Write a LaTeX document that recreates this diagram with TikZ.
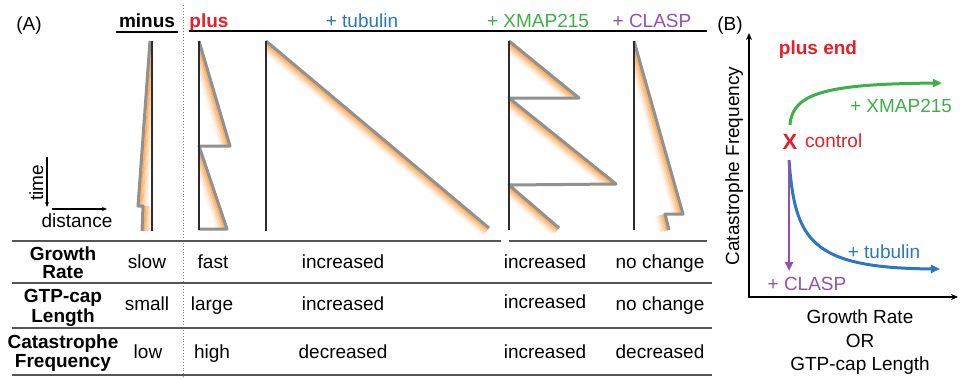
\documentclass[tikz,border=0pt]{standalone}
\usepackage{fontspec}
\setmainfont{Liberation Sans}
\usetikzlibrary{calc,arrows.meta}
\definecolor{orng}{RGB}{250,150,50}
\definecolor{kgrey}{RGB}{145,145,145}
\definecolor{kblack}{RGB}{45,45,45}
\definecolor{tline}{RGB}{85,85,85}
\definecolor{cred}{RGB}{232,30,40}
\definecolor{cblue}{RGB}{40,120,195}
\definecolor{cgreen}{RGB}{62,176,72}
\definecolor{cpurp}{RGB}{150,80,172}
\newcommand{\kband}[4]{%
  \foreach \i/\op in {0/0.9,1/0.72,2/0.52,3/0.34,4/0.19,5/0.08}{%
    \fill[orng,fill opacity=\op] ($(#1)!{\i*1.7pt}!#3:(#2)$) -- ($(#2)!{\i*1.7pt}!#4:(#1)$) -- ($(#2)!{(\i+1)*1.7pt}!#4:(#1)$) -- ($(#1)!{(\i+1)*1.7pt}!#3:(#2)$) -- cycle;
  }}
\tikzset{
  tx/.style={font=\fontsize{19}{21}\selectfont, inner sep=0pt},
  bx/.style={font=\fontsize{19}{21}\selectfont\bfseries, inner sep=0pt},
  kgy/.style={draw=kgrey, line width=3pt, line join=round},
  kblk/.style={draw=kblack, line width=1.3pt},
  uline/.style={draw=black, line width=1.5pt},
  tln/.style={draw=tline, line width=1.6pt},
  smallar/.style={draw=black, line width=1.2pt, -{Stealth[length=5pt,width=4pt]}},
  axis/.style={draw=black, line width=2pt},
  curve/.style={line width=3pt, -{Triangle[length=9pt,width=8pt]}}
}
\begin{document}
\begin{tikzpicture}[x=1pt,y=-1pt]
\useasboundingbox (0,0) rectangle (960,378);
\fill[white] (0,0) rectangle (960,378);

% ---------- header ----------
\node[tx, anchor=base] (lA) at (29,30) {(A)};
\node[bx, anchor=base] (hminus) at (147,27) {minus};
\node[bx, anchor=base, text=cred] (hplus) at (209,27) {plus};
\node[tx, anchor=base, text=cblue] (htub) at (362,27) {+ tubulin};
\node[tx, anchor=base, text=cgreen] (hxmap) at (538,27) {+ XMAP215};
\node[tx, anchor=base, text=cpurp] (hclasp) at (652,27) {+ CLASP};
\draw[uline] (116,32) -- (178,32);
\draw[uline] (189,31) -- (707,31);
\draw[dotted, draw=gray, line width=0.9pt] (183,5) -- (183,378);

% ---------- time / distance ----------
\coordinate (t1) at (47,157); \coordinate (t2) at (47,207);
\coordinate (d1) at (52,209); \coordinate (d2) at (107,209);
\draw[smallar] (t1) -- (t2);
\draw[smallar] (d1) -- (d2);
\node[tx, rotate=90, anchor=base] (ltime) at (43,183) {time};
\node[tx, anchor=base] (ldist) at (77,227) {distance};

% ---------- minus kymograph ----------
\coordinate (m1) at (150,41); \coordinate (m2) at (138,206);
\coordinate (m3) at (143,206); \coordinate (m4) at (142,231);
\begin{scope}
  \clip (m1) -- (m2) -- (152,206) -- (152,41) -- cycle;
  \kband{m1}{m2}{90}{-90}
\end{scope}
\begin{scope}
  \clip (m3) -- (m4) -- (152,231) -- (152,206) -- cycle;
  \kband{m3}{m4}{90}{-90}
\end{scope}
\draw[kgy] (m1) -- (m2) -- (m3) -- (m4);
\draw[kblk] (152,41) -- (152,231);

% ---------- plus kymograph ----------
\coordinate (p1) at (199,41); \coordinate (p2) at (230,146);
\coordinate (p3) at (199,146); \coordinate (p4) at (227,229);
\coordinate (p5) at (199,229);
\begin{scope}
  \clip (p1) -- (p2) -- (p3) -- cycle;
  \kband{p1}{p2}{-90}{90}
\end{scope}
\begin{scope}
  \clip (p3) -- (p4) -- (p5) -- cycle;
  \kband{p3}{p4}{-90}{90}
\end{scope}
\draw[kgy] (p1) -- (p2) -- (p3) -- (p4) -- (p5);
\draw[kblk] (199,41) -- (199,230);

% ---------- tubulin kymograph ----------
\coordinate (u1) at (266,41); \coordinate (u2) at (489,228);
\begin{scope}
  \clip (266,41) rectangle (500,240);
  \kband{u1}{u2}{-90}{90}
\end{scope}
\draw[kgy] (u1) -- (u2);
\draw[kblk] (266,41) -- (266,231);

% ---------- XMAP215 kymograph ----------
\coordinate (x1) at (509,41); \coordinate (x2) at (579,98);
\coordinate (x3) at (509,98); \coordinate (x4) at (616,184);
\coordinate (x5) at (509,185); \coordinate (x6) at (559,228);
\begin{scope}
  \clip (x1) -- (x2) -- (x3) -- cycle;
  \kband{x1}{x2}{-90}{90}
\end{scope}
\begin{scope}
  \clip (x3) -- (x4) -- (x5) -- cycle;
  \kband{x3}{x4}{-90}{90}
\end{scope}
\begin{scope}
  \clip (509,185) rectangle (600,232);
  \kband{x5}{x6}{-90}{90}
\end{scope}
\draw[kgy] (x1) -- (x2) -- (x3) -- (x4) -- (x5) -- (x6);
\draw[kblk] (509,41) -- (509,230);

% ---------- CLASP kymograph ----------
\coordinate (c1) at (634,41); \coordinate (c2) at (683,214);
\coordinate (c3) at (665,214); \coordinate (c4) at (669,230);
\begin{scope}
  \clip (c1) -- (c2) -- (634,214) -- cycle;
  \kband{c1}{c2}{-90}{90}
\end{scope}
\begin{scope}
  \clip (650,214) rectangle (669,231);
  \kband{c3}{c4}{-90}{90}
\end{scope}
\draw[kgy] (c1) -- (c2) -- (c3) -- (c4);
\draw[kblk] (634,41) -- (634,230);

% ---------- table ----------
\draw[tln] (12,241) -- (501,241);
\draw[tln] (509,241) -- (707,241);
\draw[tln] (12,283) -- (712,283);
\draw[tln] (12,328) -- (712,328);
\draw[tln] (12,375) -- (712,375);

\node[bx, anchor=base] (r1a) at (63,260) {Growth};
\node[bx, anchor=base] (r1b) at (63,278) {Rate};
\node[bx, anchor=base] (r2a) at (63,302) {GTP-cap};
\node[bx, anchor=base] (r2b) at (63,322) {Length};
\node[bx, anchor=base] (r3a) at (63,348) {Catastrophe};
\node[bx, anchor=base] (r3b) at (63,367) {Frequency};

\node[tx, anchor=base] (v11) at (147,268) {slow};
\node[tx, anchor=base] (v12) at (213,268) {fast};
\node[tx, anchor=base] (v13) at (343,268) {increased};
\node[tx, anchor=base] (v14) at (545,268) {increased};
\node[tx, anchor=base] (v15) at (660,268) {no change};

\node[tx, anchor=base] (v21) at (147,310) {small};
\node[tx, anchor=base] (v22) at (212,310) {large};
\node[tx, anchor=base] (v23) at (343,310) {increased};
\node[tx, anchor=base] (v24) at (545,308) {increased};
\node[tx, anchor=base] (v25) at (660,310) {no change};

\node[tx, anchor=base] (v31) at (148,358) {low};
\node[tx, anchor=base] (v32) at (212,358) {high};
\node[tx, anchor=base] (v33) at (343,358) {decreased};
\node[tx, anchor=base] (v34) at (545,358) {increased};
\node[tx, anchor=base] (v35) at (660,358) {decreased};

% ---------- panel B ----------
\node[tx, anchor=base] (lB) at (730,30) {(B)};
\coordinate (ytop) at (749,33); \coordinate (orig) at (749,297); \coordinate (xend) at (958,297);
\draw[axis, {Stealth[length=7pt,width=6pt]}-{Stealth[length=7pt,width=6pt]}] (ytop) -- (orig) -- (xend);
\node[tx, rotate=90, anchor=base] (ylab) at (739,166) {Catastrophe Frequency};
\node[tx, anchor=base] (xl1) at (860,323) {Growth Rate};
\node[tx, anchor=base] (xl2) at (860,347) {OR};
\node[tx, anchor=base] (xl3) at (860,370) {GTP-cap Length};
\node[bx, anchor=base, text=cred] (pend) at (818,54) {plus end};

\node[font=\fontsize{22}{24}\selectfont\bfseries, text=cred, inner sep=0pt, anchor=base] (cx) at (790,149) {X};
\node[tx, anchor=base west, text=cred] (ctrl) at (805,147) {control};

\coordinate (gs) at (790,125); \coordinate (ge) at (942,83);
\draw[curve, draw=cgreen] (gs) .. controls (792,92) and (830,84) .. (ge);
\node[tx, anchor=base, text=cgreen] (lx) at (901,112) {+ XMAP215};

\coordinate (bs) at (789,160); \coordinate (be) at (940,269);
\draw[curve, draw=cblue] (bs) .. controls (795,240) and (810,268) .. (be);
\node[tx, anchor=base, text=cblue] (lt) at (884,258) {+ tubulin};

\coordinate (ps) at (789,160); \coordinate (pe) at (789,271);
\draw[draw=cpurp, line width=2.5pt, -{Triangle[length=9pt,width=8pt]}] (ps) -- (pe);
\node[tx, anchor=base, text=cpurp] (lc) at (807,290) {+ CLASP};
\end{tikzpicture}
\end{document}
